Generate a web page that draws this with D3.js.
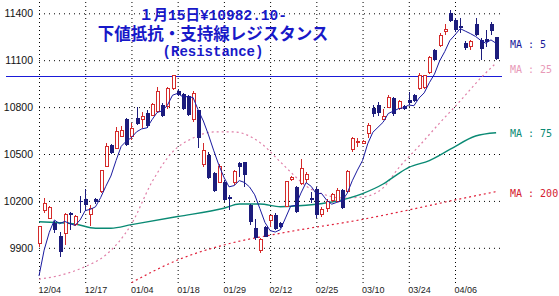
<!DOCTYPE html>
<html>
<head>
<meta charset="utf-8">
<script src="https://cdn.jsdelivr.net/npm/d3@7"></script>
<style>
  html, body { margin: 0; padding: 0; background: #fff; }
  svg { display: block; }
</style>
</head>
<body>
<svg id="chart" width="559" height="296"></svg>
<script>
// trading days, 2009/12/04 - 2010/04/16
const dates = [
  '12/04','12/07','12/08','12/09','12/10','12/11','12/14','12/15','12/16','12/17',
  '12/18','12/21','12/22','12/24','12/25','12/28','12/29','12/30',
  '01/04','01/05','01/06','01/07','01/08','01/12','01/13','01/14','01/15','01/18',
  '01/19','01/20','01/21','01/22','01/25','01/26','01/27','01/28','01/29',
  '02/01','02/02','02/03','02/04','02/05','02/08','02/09','02/10','02/12','02/15',
  '02/16','02/17','02/18','02/19','02/22','02/23','02/24','02/25','02/26',
  '03/01','03/02','03/03','03/04','03/05','03/08','03/09','03/10','03/11','03/12',
  '03/15','03/16','03/17','03/18','03/19','03/23','03/24','03/25','03/26','03/29',
  '03/30','03/31',
  '04/01','04/02','04/05','04/06','04/07','04/08','04/09','04/12','04/13','04/14',
  '04/15','04/16'
];

const opens = [
  9930, 10137, 10089, 10060, 9975, 9994, 10125, 10052, 10200, 10214,
  10114, 10210, 10259, 10423, 10557, 10537, 10615, 10722,
  10615, 10729, 10718, 10760, 10748, 10771, 10813, 10802, 10920, 10905,
  10884, 10871, 10718, 10782, 10434, 10494, 10376, 10316, 10323,
  10227, 10316, 10445, 10449, 10174, 10025, 9882, 10035, 10075, 10110,
  10057, 10166, 10334, 10291, 10313, 10334, 10220, 10275, 10110,
  10150, 10205, 10195, 10270, 10260, 10530, 10572, 10570, 10634, 10796,
  10813, 10720, 10796, 10856, 10792, 10805, 10845, 10877, 10917, 10925,
  11020, 11165,
  11191, 11282, 11400, 11357, 11320, 11208, 11186, 11330, 11229, 11236,
  11332, 11246
];
const highs = [
  10040, 10217, 10165, 10073, 10003, 10120, 10130, 10110, 10232, 10274,
  10174, 10220, 10398, 10572, 10562, 10670, 10680, 10730,
  10696, 10803, 10770, 10781, 10824, 10930, 10824, 10930, 11005, 10914,
  10888, 10877, 10905, 10782, 10568, 10510, 10387, 10436, 10334,
  10235, 10400, 10451, 10451, 10180, 10083, 9960, 10041, 10110, 10121,
  10065, 10330, 10362, 10298, 10466, 10387, 10255, 10290, 10160,
  10210, 10250, 10280, 10275, 10395, 10610, 10600, 10590, 10696, 10813,
  10835, 10790, 10877, 10866, 10845, 10812, 10898, 10885, 11017, 11005,
  11127, 11169,
  11276, 11332, 11421, 11368, 11368, 11225, 11230, 11370, 11240, 11294,
  11345, 11250
];
const lows = [
  9905, 10121, 10085, 9993, 9843, 9918, 10014, 10040, 10121, 10142,
  10039, 10180, 10248, 10419, 10500, 10530, 10610, 10554,
  10590, 10685, 10664, 10664, 10740, 10765, 10735, 10790, 10910, 10871,
  10780, 10743, 10707, 10536, 10420, 10338, 10259, 10312, 10201,
  10142, 10304, 10355, 10291, 10046, 9950, 9865, 9967, 10035, 10014,
  10027, 10160, 10330, 10121, 10302, 10313, 10185, 10090, 10095,
  10130, 10195, 10190, 10145, 10255, 10515, 10547, 10565, 10600, 10739,
  10745, 10715, 10792, 10745, 10780, 10780, 10812, 10835, 10911, 10917,
  11012, 11097,
  11186, 11261, 11346, 11282, 11272, 11165, 11165, 11255, 11101, 11186,
  11263, 11101
];
const closes = [
  10037, 10185, 10159, 10015, 9872, 10116, 10112, 10099, 10190, 10175,
  10153, 10195, 10392, 10551, 10505, 10647, 10650, 10558,
  10664, 10692, 10743, 10679, 10815, 10900, 10745, 10920, 10999, 10877,
  10790, 10750, 10890, 10600, 10525, 10345, 10262, 10423, 10206,
  10214, 10387, 10419, 10365, 10062, 9961, 9950, 9971, 10105, 10019,
  10035, 10323, 10350, 10131, 10409, 10370, 10205, 10110, 10145,
  10195, 10240, 10265, 10155, 10385, 10598, 10582, 10577, 10681, 10755,
  10760, 10740, 10860, 10757, 10835, 10788, 10825, 10842, 10999, 10999,
  11115, 11101,
  11261, 11298, 11353, 11295, 11303, 11180, 11220, 11262, 11170, 11215,
  11285, 11110
];

// moving averages
const ma5 = [
  9720, 9885, 9999, 10078, 10054, 10069, 10055, 10043, 10078, 10138,
  10146, 10162, 10221, 10293, 10359, 10458, 10549, 10582,
  10605, 10642, 10661, 10667, 10719, 10766, 10776, 10812, 10876, 10888,
  10866, 10867, 10861, 10781, 10711, 10622, 10524, 10431, 10352,
  10290, 10298, 10330, 10318, 10289, 10239, 10151, 10062, 10010, 10001,
  10016, 10091, 10166, 10172, 10250, 10317, 10293, 10245, 10248,
  10205, 10179, 10191, 10200, 10248, 10329, 10397, 10459, 10565, 10639,
  10671, 10703, 10759, 10774, 10790, 10796, 10813, 10809, 10858, 10891,
  10956, 11011,
  11095, 11155, 11226, 11262, 11302, 11286, 11270, 11252, 11227, 11209,
  11230, 11208
];
const ma25Day = [0, 4, 9, 13, 18, 22, 26, 30, 34, 38, 43, 47, 50, 52, 55, 59, 63, 67, 70, 74, 78, 82, 86, 89];
const ma25 = [9700, 9723, 9780, 9854, 10052, 10321, 10513, 10602, 10641, 10641, 10574, 10449,
  10353, 10295, 10247, 10219, 10225, 10283, 10410, 10551, 10698, 10839, 10986, 11082];
const ma75Day = [0, 7, 11, 14, 18, 27, 36, 39, 43, 47, 52, 57, 63, 67, 70, 72, 76, 80, 85, 89];
const ma75 = [10067, 10052, 10025, 10025, 10048, 10100, 10153, 10180, 10180, 10163, 10172,
  10193, 10247, 10308, 10375, 10414, 10458, 10529, 10615, 10636];
const ma200Day = [18, 27, 36, 47, 63, 72, 81, 89];
const ma200 = [9677, 9822, 9918, 9993, 10082, 10142, 10206, 10259];

const yTicks = [11400, 11100, 10800, 10500, 10200, 9900];
const resistance = 11000;
const titleLines = ['１月15日¥10982.10-', '下値抵抗・支持線レジスタンス', '(Resistance)'];
const maNames = ['MA : 5', 'MA : 25', 'MA : 75', 'MA : 200'];

const UP = '#d42a2a';
const DOWN = '#1c1c7c';

const svg = d3.select('#chart');
const left = 39, right = 502, bottom = 283;

const x = d3.scalePoint()
  .domain(dates)
  .range([39, 496.1]);

const y = d3.scaleLinear()
  .domain([9900, 11400])
  .range([247.8, 13.3]);

// horizontal grid + price labels
const yAxis = svg.append('g')
  .attr('transform', `translate(${left},0)`)
  .call(d3.axisLeft(y).tickValues(yTicks).tickSize(-(right - left)).tickPadding(6).tickFormat(d3.format('d')));
yAxis.select('.domain').remove();
yAxis.selectAll('line')
  .attr('stroke', '#000')
  .attr('stroke-dasharray', '1,4');
yAxis.selectAll('text')
  .attr('fill', '#111')
  .style('font-family', "'Liberation Sans', Arial, sans-serif")
  .style('font-size', '10.5px');

// vertical grid + date labels
const xAxis = svg.append('g')
  .attr('transform', `translate(0,${bottom})`)
  .call(d3.axisBottom(x).tickValues(dates.filter((d, i) => i % 9 === 0)).tickSize(-bottom).tickPadding(4));
xAxis.select('.domain').remove();
xAxis.selectAll('line')
  .attr('stroke', '#000')
  .attr('stroke-dasharray', '1,3');
xAxis.selectAll('text')
  .attr('fill', '#222')
  .attr('text-anchor', 'start')
  .attr('x', -1)
  .style('font-family', "'Liberation Sans', Arial, sans-serif")
  .style('font-size', '9px');

// resistance line
svg.append('line')
  .attr('x1', 6)
  .attr('x2', right)
  .attr('y1', Math.round(y(resistance)) + 0.5)
  .attr('y2', Math.round(y(resistance)) + 0.5)
  .attr('stroke', '#1a1ad8')
  .attr('stroke-width', 1.2);

svg.append('clipPath').attr('id', 'plot')
  .append('rect').attr('x', 38).attr('y', 0).attr('width', right - 38).attr('height', bottom);

const plot = svg.append('g').attr('clip-path', 'url(#plot)');

// moving averages
const lineFrom = (days, vals, curve) => d3.line()
  .x((d, i) => x(dates[days[i]]))
  .y(d => y(d))
  .curve(curve)(vals);

plot.append('path')
  .attr('d', lineFrom(ma200Day, ma200, d3.curveMonotoneX))
  .attr('fill', 'none')
  .attr('stroke', '#e0203a')
  .attr('stroke-width', 1.2)
  .attr('stroke-dasharray', '2,3');

plot.append('path')
  .attr('d', lineFrom(ma25Day, ma25, d3.curveMonotoneX))
  .attr('fill', 'none')
  .attr('stroke', '#e07fa8')
  .attr('stroke-width', 1.2)
  .attr('stroke-dasharray', '2,3');

plot.append('path')
  .attr('d', lineFrom(ma75Day, ma75, d3.curveMonotoneX))
  .attr('fill', 'none')
  .attr('stroke', '#0a8a74')
  .attr('stroke-width', 1.4);

// candles
const candles = plot.selectAll('.candle')
  .data(dates)
  .enter()
  .append('g')
  .attr('class', 'candle')
  .attr('shape-rendering', 'crispEdges');

candles.append('line')
  .attr('x1', d => Math.round(x(d)) + 0.5)
  .attr('x2', d => Math.round(x(d)) + 0.5)
  .attr('y1', (d, i) => y(highs[i]))
  .attr('y2', (d, i) => y(lows[i]))
  .attr('stroke', (d, i) => closes[i] >= opens[i] ? UP : DOWN);

candles.append('rect')
  .attr('x', (d, i) => Math.round(x(d)) - (closes[i] >= opens[i] ? 1.5 : 2) + 0.5)
  .attr('y', (d, i) => y(Math.max(opens[i], closes[i])))
  .attr('width', (d, i) => closes[i] >= opens[i] ? 3 : 4)
  .attr('height', (d, i) => Math.max(1, Math.abs(y(opens[i]) - y(closes[i]))))
  .attr('fill', (d, i) => closes[i] >= opens[i] ? '#fff' : DOWN)
  .attr('stroke', (d, i) => closes[i] >= opens[i] ? UP : 'none');

plot.append('path')
  .attr('d', lineFrom(d3.range(dates.length), ma5, d3.curveLinear))
  .attr('fill', 'none')
  .attr('stroke', '#1a1aa0')
  .attr('stroke-width', 1);

// title
const title = svg.append('g').attr('fill', '#1818c8').attr('font-weight', 'bold').attr('text-anchor', 'middle');
title.append('text')
  .attr('x', 213).attr('y', 20)
  .style('font-family', "'Liberation Mono', 'Noto Sans CJK JP', monospace")
  .style('font-size', '14.5px')
  .text(titleLines[0]);
title.append('text')
  .attr('x', 213).attr('y', 39.5)
  .style('font-family', "'Noto Sans CJK JP', sans-serif")
  .style('font-size', '16.5px')
  .text(titleLines[1]);
title.append('text')
  .attr('x', 213).attr('y', 55.5)
  .style('font-family', "'Liberation Mono', monospace")
  .style('font-size', '14px')
  .text(titleLines[2]);

// MA legend on the right
const legendY = [48, 73, 137, 197];
const legendColor = ['#1a1a9a', '#e89ab8', '#0a8a74', '#d42030'];
svg.selectAll('.ma-label')
  .data(maNames)
  .enter()
  .append('text')
  .attr('class', 'ma-label')
  .attr('x', 510)
  .attr('y', (d, i) => legendY[i])
  .attr('fill', (d, i) => legendColor[i])
  .style('font-family', "'DejaVu Sans Mono', monospace")
  .style('font-size', '10px')
  .text(d => d);
</script>
</body>
</html>
